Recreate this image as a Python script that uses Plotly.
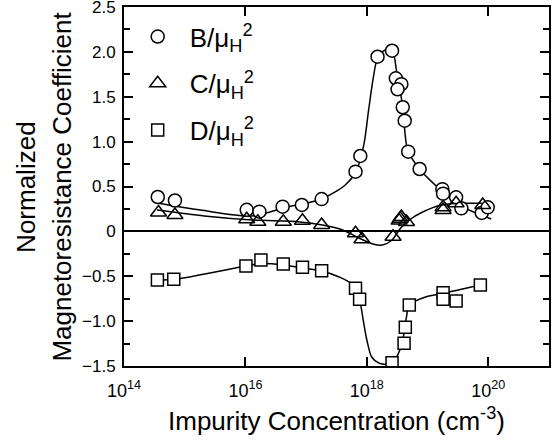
import plotly.graph_objects as go

# ---- measured points ----
b_conc = [3.6e14, 6.9e14, 1.05e16, 1.7e16, 4.1e16, 8.5e16, 1.8e17, 6.5e17, 7.8e17,
          1.5e18, 2.6e18, 3.0e18, 3.7e18, 3.2e18, 3.9e18, 4.2e18, 4.8e18, 7.4e18,
          1.75e19, 1.8e19, 2.95e19, 3.6e19, 7.8e19, 9.8e19]
b_val = [0.383, 0.344, 0.24, 0.22, 0.275, 0.294, 0.36, 0.665, 0.84,
         1.946, 2.013, 1.706, 1.64, 1.583, 1.383, 1.233, 0.888, 0.695,
         0.47, 0.42, 0.38, 0.257, 0.205, 0.268]

c_conc = [3.7e14, 6.9e14, 1.05e16, 1.6e16, 4.2e16, 8.7e16, 1.8e17, 6.5e17, 8.3e17,
          2.7e18, 3.4e18, 3.55e18, 3.7e18, 4.5e18, 1.8e19, 1.8e19, 2.95e19, 8.1e19]
c_val = [0.21, 0.183, 0.135, 0.108, 0.108, 0.119, 0.071, -0.021, -0.088,
         -0.059, 0.12, 0.14, 0.16, 0.105, 0.238, 0.27, 0.313, 0.294]

d_conc = [3.55e14, 6.6e14, 1.02e16, 1.8e16, 4.2e16, 8.7e16, 1.8e17, 6.5e17, 7.6e17,
          2.6e18, 4.1e18, 4.3e18, 5.0e18, 1.8e19, 1.8e19, 2.95e19, 7.4e19]
d_val = [-0.541, -0.534, -0.386, -0.319, -0.364, -0.40, -0.438, -0.634, -0.757,
         -1.463, -1.247, -1.069, -0.82, -0.683, -0.757, -0.776, -0.597]

# ---- fitted guide curves ----
b_fit_conc = [3.5e14, 1.8e15, 1.3e16, 4.2e16, 1.8e17, 4.4e17, 6.6e17, 8.9e17, 1.07e18,
              1.26e18, 1.5e18, 2.0e18, 2.6e18, 3.1e18, 3.9e18, 4.7e18, 7.4e18,
              1.8e19, 4.1e19, 1.12e20]
b_fit_val = [0.316, 0.238, 0.171, 0.261, 0.361, 0.517, 0.662, 0.963, 1.353,
             1.687, 1.932, 2.021, 2.021, 1.776, 1.386, 0.907, 0.695,
             0.439, 0.261, 0.138]

c_fit_conc = [3.5e14, 2.1e15, 1.3e16, 7.8e16, 1.85e17, 4.0e17, 6.8e17, 1.26e18, 1.8e18,
              2.6e18, 3.5e18, 5.0e18, 8.3e18, 1.7e19, 3.6e19, 7.8e19]
c_fit_val = [0.238, 0.172, 0.127, 0.105, 0.071, 0.016, -0.062, -0.140, -0.152,
             -0.096, 0.027, 0.127, 0.216, 0.294, 0.313, 0.313]

d_fit_conc = [3.55e14, 6.6e14, 1.02e16, 1.8e16, 4.2e16, 8.7e16, 1.8e17, 3.5e17, 5.9e17,
              7.6e17, 8.7e17, 1.0e18, 1.2e18, 1.6e18, 2.6e18, 3.5e18, 4.0e18, 4.5e18,
              5.0e18, 9.5e18, 1.8e19, 7.4e19]
d_fit_val = [-0.541, -0.536, -0.386, -0.358, -0.374, -0.408, -0.441, -0.508, -0.597,
             -0.764, -0.987, -1.21, -1.40, -1.47, -1.477, -1.32, -1.173, -0.95,
             -0.82, -0.728, -0.69, -0.597]

x_tick_vals = [1e14, 1e16, 1e18, 1e20]
x_tick_text = ["10<sup>14</sup>", "10<sup>16</sup>", "10<sup>18</sup>", "10<sup>20</sup>"]
y_tick_vals = [-1.5, -1.0, -0.5, 0, 0.5, 1.0, 1.5, 2.0, 2.5]
y_tick_text = ["\u22121.5", "\u22121.0", "\u22120.5", "0", "0.5", "1.0", "1.5", "2.0", "2.5"]

FONT = "Liberation Sans, Arial, Helvetica, sans-serif"

fig = go.Figure()

for fx, fy in [(b_fit_conc, b_fit_val), (c_fit_conc, c_fit_val), (d_fit_conc, d_fit_val)]:
    fig.add_trace(go.Scatter(x=fx, y=fy, mode="lines", showlegend=False, hoverinfo="skip",
                             line=dict(color="black", width=1.5, shape="spline", smoothing=0.8)))

mk_line = dict(color="black", width=1.5)
fig.add_trace(go.Scatter(x=b_conc, y=b_val, mode="markers", name="B/\u03bc<sub>H</sub><sup>2</sup>",
                         legendgroup="b",
                         marker=dict(symbol="circle", size=13, color="white", line=mk_line)))
fig.add_trace(go.Scatter(x=c_conc, y=c_val, mode="markers", name="C/\u03bc<sub>H</sub><sup>2</sup>",
                         legendgroup="c",
                         marker=dict(symbol="triangle-up-open", size=14, color="black", line=mk_line)))
fig.add_trace(go.Scatter(x=d_conc, y=d_val, mode="markers", name="D/\u03bc<sub>H</sub><sup>2</sup>",
                         legendgroup="d",
                         marker=dict(symbol="square", size=12, color="white", line=mk_line)))

fig.update_layout(
    width=554, height=440,
    margin=dict(l=124, r=5, t=7, b=74, autoexpand=False),
    paper_bgcolor="white", plot_bgcolor="white",
    font=dict(family=FONT, color="black"),
    legend=dict(x=0.004, y=0.983, xanchor="left", yanchor="top",
                font=dict(size=26, family=FONT), bgcolor="rgba(0,0,0,0)",
                itemwidth=54, tracegroupgap=10),
    xaxis=dict(type="log", range=[14, 21], tickvals=x_tick_vals, ticktext=x_tick_text,
               automargin=False, ticklabelstandoff=7,
               ticks="inside", ticklen=9, tickwidth=1.5, tickcolor="black",
               showline=True, linecolor="black", linewidth=2, mirror="ticks",
               showgrid=False, zeroline=False, tickfont=dict(size=18, family=FONT)),
    yaxis=dict(range=[-1.5, 2.5], tickvals=y_tick_vals, ticktext=y_tick_text,
               automargin=False, ticklabelstandoff=3, ticklabeloverflow="allow",
               ticks="inside", ticklen=9, tickwidth=1.5, tickcolor="black",
               minor=dict(dtick=0.25, tick0=0, ticks="inside", ticklen=6, tickwidth=1.5,
                          tickcolor="black", showgrid=False),
               showline=True, linecolor="black", linewidth=2, mirror="ticks",
               showgrid=False, zeroline=True, zerolinecolor="black", zerolinewidth=1.5,
               tickfont=dict(size=17, family=FONT)),
    annotations=[
        dict(text="Impurity Concentration (cm<sup>-3</sup>)", xref="paper", yref="paper",
             x=0.5, y=-0.15, xanchor="center", yanchor="middle", showarrow=False,
             font=dict(size=26, family=FONT)),
        dict(text="Normalized", xref="paper", yref="paper", x=-0.232, y=0.5,
             xanchor="center", yanchor="middle", textangle=-90, showarrow=False,
             font=dict(size=26, family=FONT)),
        dict(text="Magnetoresistance Coefficient", xref="paper", yref="paper", x=-0.148, y=0.5,
             xanchor="center", yanchor="middle", textangle=-90, showarrow=False,
             font=dict(size=26, family=FONT)),
    ],
)

fig.write_html("out.html", config={"displayModeBar": False},
               post_script="document.body.style.margin='0px';")
